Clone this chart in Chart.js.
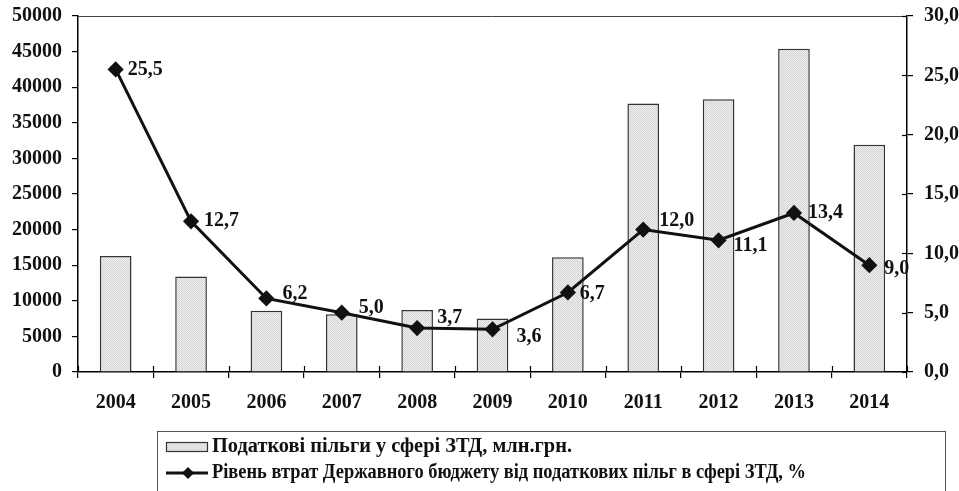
<!DOCTYPE html>
<html>
<head>
<meta charset="utf-8">
<script src="https://cdn.jsdelivr.net/npm/chart.js@4"></script>
<style>
  html, body { margin: 0; padding: 0; background: #fff; }
</style>
</head>
<body>
<canvas id="chart" width="959" height="491"></canvas>
<script>
// ----------- data ------------
const years = ["2004", "2005", "2006", "2007", "2008", "2009", "2010", "2011", "2012", "2013", "2014"];
const taxBenefits = [16300, 13400, 8600, 8100, 8700, 7500, 16100, 37700, 38300, 45400, 31900];
const lossRate = [25.5, 12.7, 6.2, 5.0, 3.7, 3.6, 6.7, 12.0, 11.1, 13.4, 9.0];
const barLabel = "Податкові пільги у сфері ЗТД, млн.грн.";
const lineLabel = "Рівень втрат Державного бюджету від податкових пільг в сфері ЗТД, %";

// where each value label sits relative to its point [dx, dy]
const labelOffset = [[12, 0], [13, 0], [16, -5], [17, -5], [20, -10], [24, 8], [12, 1], [16, -9], [15, 6], [14, 0], [15, 4]];

const FONT = "'Liberation Serif', 'Times New Roman', serif";
const tickFont = { family: FONT, size: 20, weight: "bold" };

const canvas = document.getElementById("chart");
const ctx = canvas.getContext("2d");

function dotPattern() {
  const p = document.createElement("canvas");
  p.width = 2; p.height = 2;
  const g = p.getContext("2d");
  g.fillStyle = "#ededed"; g.fillRect(0, 0, 2, 2);
  g.fillStyle = "#d6d6d6"; g.fillRect(0, 0, 1, 1); g.fillRect(1, 1, 1, 1);
  return ctx.createPattern(p, "repeat");
}
const fill = dotPattern();

const comma = (v) => v.toFixed(1).replace(".", ",");

// ----------- extras: frame, inner ticks, value labels, legend ------------
const extras = {
  id: "extras",
  afterDraw(chart) {
    const c = chart.ctx;
    const a = chart.chartArea;
    const y1 = chart.scales.y1;
    c.save();

    // top frame line
    c.strokeStyle = "#444";
    c.lineWidth = 1;
    c.beginPath();
    c.moveTo(a.left, Math.round(a.top) + 0.5);
    c.lineTo(a.right, Math.round(a.top) + 0.5);
    c.stroke();

    // inward tick parts (x axis & right axis cross the line)
    c.strokeStyle = "#000";
    c.lineWidth = 1.2;
    const w = (a.right - a.left) / years.length;
    for (let i = 0; i <= years.length; i++) {
      const x = Math.round(a.left + i * w) + 0.5;
      c.beginPath();
      c.moveTo(x, a.bottom - 6);
      c.lineTo(x, a.bottom);
      c.stroke();
    }
    for (let v = 0; v <= 30; v += 5) {
      const y = Math.round(y1.getPixelForValue(v)) + 0.5;
      c.beginPath();
      c.moveTo(a.right - 5, y);
      c.lineTo(a.right, y);
      c.stroke();
    }

    // value labels on the line
    const meta = chart.getDatasetMeta(0);
    c.fillStyle = "#111";
    c.font = "bold 20px " + FONT;
    c.textAlign = "left";
    c.textBaseline = "middle";
    meta.data.forEach((pt, i) => {
      const [dx, dy] = labelOffset[i];
      c.fillText(comma(lossRate[i]), pt.x + dx, pt.y + dy);
    });

    // legend box
    c.strokeStyle = "#555";
    c.lineWidth = 1;
    c.strokeRect(157.5, 431.5, 788, 100);

    c.font = "bold 20px " + FONT;
    const sx1 = 360 / c.measureText(barLabel).width;
    const sx2 = 594 / c.measureText(lineLabel).width;

    // bar item
    c.fillStyle = fill;
    c.fillRect(166, 442, 41, 9);
    c.strokeStyle = "#333";
    c.lineWidth = 1.2;
    c.strokeRect(166.5, 442.5, 41, 9);
    c.fillStyle = "#111";
    c.save();
    c.translate(212, 447);
    c.scale(sx1, 1);
    c.fillText(barLabel, 0, 0);
    c.restore();

    // line item
    c.strokeStyle = "#111";
    c.lineWidth = 3;
    c.beginPath();
    c.moveTo(166, 473);
    c.lineTo(208, 473);
    c.stroke();
    c.beginPath();
    c.moveTo(188, 467); c.lineTo(194, 473); c.lineTo(188, 479); c.lineTo(182, 473);
    c.closePath();
    c.fill();
    c.save();
    c.translate(212, 473);
    c.scale(sx2, 1);
    c.fillText(lineLabel, 0, 0);
    c.restore();

    c.restore();
  }
};

new Chart(canvas, {
  data: {
    labels: years,
    datasets: [
      {
        type: "line",
        label: lineLabel,
        data: lossRate,
        yAxisID: "y1",
        borderColor: "#111",
        backgroundColor: "#111",
        borderWidth: 3,
        pointStyle: "rectRot",
        pointRadius: 6,
        pointBackgroundColor: "#111",
        pointBorderColor: "#111",
        tension: 0,
        order: 0,
      },
      {
        type: "bar",
        label: barLabel,
        data: taxBenefits,
        yAxisID: "y",
        backgroundColor: fill,
        borderColor: "#333",
        borderWidth: 1.5,
        barPercentage: 0.42,
        categoryPercentage: 1,
        order: 1,
      },
    ],
  },
  options: {
    responsive: false,
    animation: false,
    layout: { padding: { top: 16, left: 0, right: 0, bottom: 0 } },
    plugins: { legend: { display: false }, tooltip: { enabled: false } },
    scales: {
      x: {
        grid: { drawOnChartArea: false, tickLength: 6, color: "#000", lineWidth: 1.2, offset: true },
        border: { color: "#000", width: 1.5 },
        ticks: { font: tickFont, color: "#111", padding: 13, maxRotation: 0 },
        afterFit(s) { s.height = 119; s.paddingLeft = 0; s.paddingRight = 0; },
      },
      y: {
        position: "left",
        min: 0,
        max: 50000,
        grid: { drawOnChartArea: false, tickLength: 6, color: "#000", lineWidth: 1.2 },
        border: { color: "#000", width: 1.5 },
        ticks: { stepSize: 5000, font: tickFont, color: "#111", padding: 10, callback: (v) => String(v) },
        afterFit(s) { s.width = 78; s.paddingTop = 0; s.paddingBottom = 0; },
      },
      y1: {
        position: "right",
        min: 0,
        max: 30,
        grid: { drawOnChartArea: false, tickLength: 6, color: "#000", lineWidth: 1.2 },
        border: { color: "#000", width: 1.5 },
        ticks: { stepSize: 5, font: tickFont, color: "#111", padding: 11, callback: (v) => comma(v) },
        afterFit(s) { s.width = 52; s.paddingTop = 0; s.paddingBottom = 0; },
      },
    },
  },
  plugins: [extras],
});
</script>
</body>
</html>
